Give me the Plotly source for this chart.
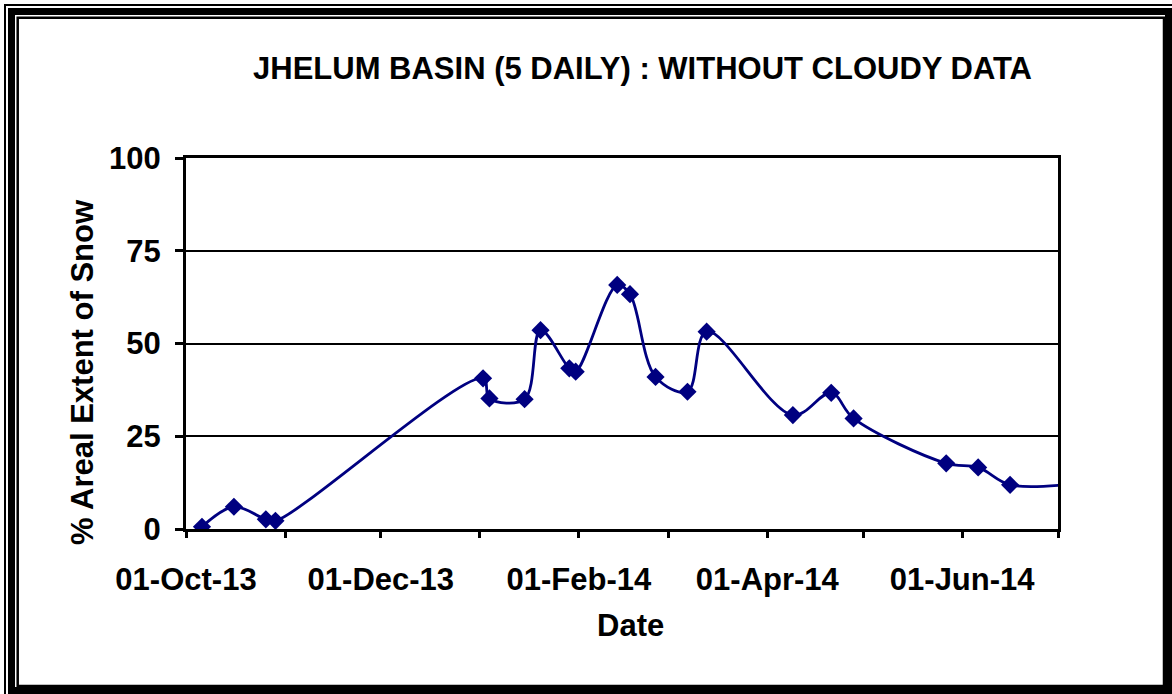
import plotly.graph_objects as go

# ─── DATA ─────────────────────────────────────────────
dates = [
    "2013-10-06", "2013-10-16", "2013-10-26", "2013-10-29",
    "2014-01-02", "2014-01-04", "2014-01-15", "2014-01-20",
    "2014-01-29", "2014-01-31", "2014-02-13", "2014-02-17",
    "2014-02-25", "2014-03-07", "2014-03-13", "2014-04-09",
    "2014-04-21", "2014-04-28", "2014-05-27", "2014-06-06",
    "2014-06-16", "2014-07-06",
]
snow_pct = [
    0.6, 6.0, 2.6, 2.2,
    40.6, 35.2, 35.0, 53.6,
    43.3, 42.4, 65.8, 63.3,
    41.0, 37.0, 53.2, 30.7,
    36.7, 29.8, 17.7, 16.6,
    11.9, 12.2,
]
y_ticks = [0, 25, 50, 75, 100]

TITLE = "JHELUM BASIN (5 DAILY) : WITHOUT CLOUDY DATA"
FONT = "Liberation Sans, Arial, sans-serif"
NAVY = "#000080"
FS = 31

# ─── GEOMETRY (pixels) ────────────────────────────────
W, H = 1172, 694
L, R, T, B = 186, 1058, 158, 529


def px(x):
    return (x - L) / (R - L)


def py(y):
    return (B - y) / (B - T)


fig = go.Figure(go.Scatter(
    x=dates, y=snow_pct,
    mode="lines+markers",
    line=dict(color=NAVY, width=2.8, shape="spline", smoothing=1),
    marker=dict(symbol="diamond", size=14, color=NAVY),
    showlegend=False,
))

# рамка вокруг картинки
frame = [
    dict(x0=5, y0=5, x1=1185, y1=705, w=2),
    dict(x0=11.5, y0=11.5, x1=1168.5, y1=690.5, w=7),
    dict(x0=17.7, y0=17.7, x1=1164, y1=686, w=2.5),
]
shapes = [
    dict(type="rect", xref="paper", yref="paper",
         x0=px(f["x0"]), x1=px(f["x1"]), y0=py(f["y0"]), y1=py(f["y1"]),
         line=dict(color="black", width=f["w"]))
    for f in frame
]

fig.update_layout(
    width=W, height=H,
    margin=dict(l=L, r=W - R, t=T, b=H - B),
    paper_bgcolor="white", plot_bgcolor="white",
    font=dict(family=FONT, size=FS, color="black"),
    shapes=shapes,
    xaxis=dict(
        type="date",
        range=["2013-10-01", "2014-07-01"],
        tick0="2013-10-01", dtick="M2", tickformat="%d-%b-%y",
        ticks="outside", ticklen=6, tickwidth=3, tickcolor="black",
        minor=dict(dtick="M1", ticks="outside", ticklen=6, tickwidth=3, tickcolor="black"),
        showline=True, linecolor="black", linewidth=3, mirror=True,
        showgrid=False, zeroline=False,
        tickfont=dict(family=FONT, size=FS, color="black", weight="bold"),
        ticklabelstandoff=15,
    ),
    yaxis=dict(
        range=[0, 100],
        tickvals=y_ticks,
        ticks="outside", ticklen=8, tickwidth=3, tickcolor="black",
        showline=True, linecolor="black", linewidth=3, mirror=True,
        showgrid=True, gridcolor="black", gridwidth=2,
        zeroline=False,
        tickfont=dict(family=FONT, size=FS, color="black", weight="bold"),
        ticklabelstandoff=8,
    ),
    annotations=[
        dict(text=f"<b>{TITLE}</b>", xref="paper", yref="paper",
             x=px(642), y=py(68), xanchor="center", yanchor="middle",
             showarrow=False, font=dict(size=FS)),
        dict(text="<b>% Areal Extent of Snow</b>", xref="paper", yref="paper",
             x=px(82), y=py(372), xanchor="center", yanchor="middle",
             textangle=-90, showarrow=False, font=dict(size=FS)),
        dict(text="<b>Date</b>", xref="paper", yref="paper",
             x=px(630), y=py(625), xanchor="center", yanchor="middle",
             showarrow=False, font=dict(size=FS)),
    ],
)

# убираем отступ body, чтобы картинка начиналась с (0, 0)
fig.write_html(
    "out.html",
    config={"displayModeBar": False},
    post_script="document.body.style.margin='0';",
)
